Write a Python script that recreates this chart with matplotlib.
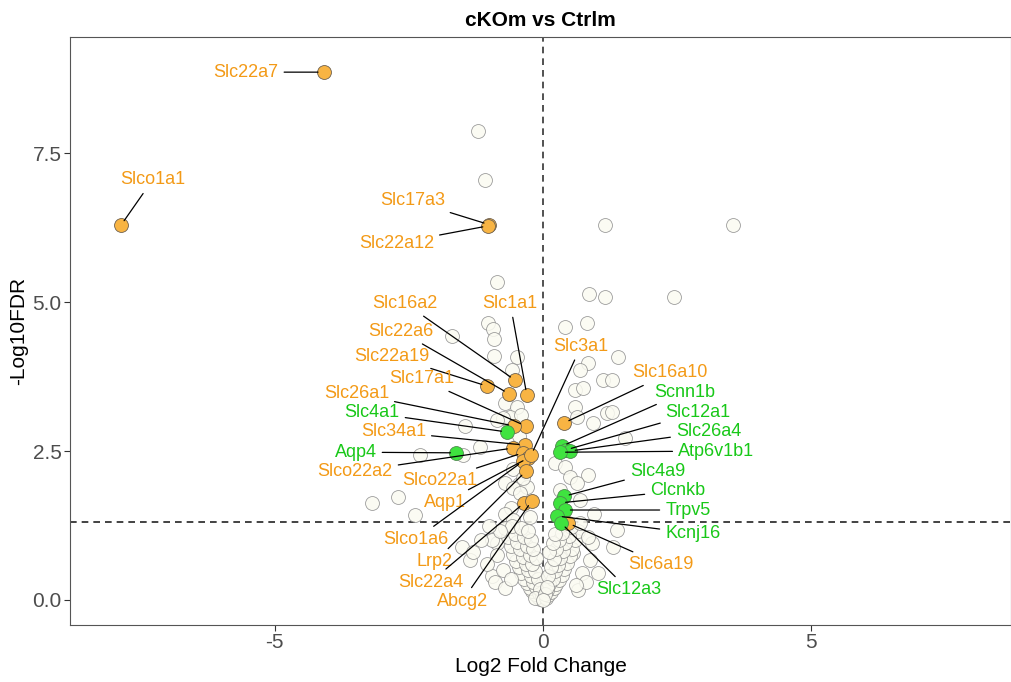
import matplotlib
matplotlib.use("Agg")
import matplotlib.pyplot as plt

plt.rcParams['font.family'] = ['Liberation Sans', 'DejaVu Sans']

# labelled genes
genes = ['Slc22a7', 'Slco1a1', 'Slc17a3', 'Slc22a12', 'Slc16a2', 'Slc1a1',
         'Slc22a6', 'Slc22a19', 'Slc17a1', 'Slc26a1', 'Slc4a1', 'Slc34a1',
         'Aqp4', 'Slco22a2', 'Slco22a1', 'Aqp1', 'Slco1a6', 'Lrp2',
         'Slc22a4', 'Abcg2', 'Slc3a1',
         'Slc16a10', 'Scnn1b', 'Slc12a1', 'Slc26a4', 'Atp6v1b1', 'Slc4a9',
         'Clcnkb', 'Trpv5', 'Kcnj16', 'Slc6a19', 'Slc12a3']
gene_lfc = [-4.09, -7.87, -1.00, -1.02, -0.52, -0.30,
            -0.63, -1.04, -0.32, -0.54, -0.67, -0.34,
            -1.62, -0.56, -0.37, -0.28, -0.37, -0.32,
            -0.35, -0.21, -0.22,
            0.39, 0.35, 0.43, 0.50, 0.32, 0.39,
            0.32, 0.41, 0.26, 0.47, 0.34]
gene_fdr = [8.86, 6.29, 6.30, 6.28, 3.69, 3.44,
            3.46, 3.59, 2.92, 2.92, 2.82, 2.60,
            2.47, 2.55, 2.47, 2.38, 2.33, 2.16,
            1.63, 1.66, 2.43,
            2.97, 2.58, 2.52, 2.50, 2.48, 1.74,
            1.63, 1.51, 1.41, 1.29, 1.29]
gene_group = ['t', 't', 't', 't', 't', 't',
              't', 't', 't', 't', 'c', 't',
              'c', 't', 't', 't', 't', 't',
              't', 't', 't',
              't', 'c', 'c', 'c', 'c', 'c',
              'c', 'c', 'c', 't', 'c']

# all other genes
bg_lfc = [-1.21, -1.08, 1.16, 3.54, -0.86, 0.86, 1.16, 2.44, 0.41, 0.82,
          -1.03, -0.93, -0.91, -0.91, -0.49, -0.58, -1.70,
          1.40, 0.84, 0.69, 1.12, 1.29, 0.60, 0.75, 0.60, 0.63, 1.19, 1.29,
          0.93, 1.53,
          -0.71, -0.49, -0.62, -0.75, -0.86, -1.18, -1.46, -2.29, -1.49,
          -3.19, -2.71, -2.39, -1.51, -1.36,
          0.22, 0.41, 0.84, 0.50, 0.63, 0.32, 0.69, 1.38, 0.91, 1.31, 1.03,
          0.65, 0.88, 0.56, 0.95,
          -0.45, -0.40, -0.55, -0.45, -0.71, -0.56, -0.60, -0.70, -0.30, -0.55,
          -0.42, -0.65, -0.38, -0.25, -0.85, -0.95,
          # cluster near zero, left
          -0.05, -0.10, -0.15, -0.20, -0.25, -0.30, -0.35, -0.40, -0.45, -0.50,
          -0.55, -0.60, -0.65, -0.70, -0.08, -0.12, -0.18, -0.22, -0.28, -0.32,
          -0.38, -0.42, -0.48, -0.52, -0.58, -0.10, -0.15, -0.20, -0.25, -0.30,
          -0.35, -0.40, -0.12, -0.18, -0.22, -0.28, -0.75, -0.85, -0.95, -0.90,
          -1.05, -0.70, -0.60, -0.80, -1.00, -1.15, -1.30, -0.02, -0.06, -0.14,
          # cluster near zero, right
          0.05, 0.10, 0.15, 0.20, 0.25, 0.30, 0.35, 0.40, 0.45, 0.50,
          0.55, 0.60, 0.65, 0.08, 0.12, 0.18, 0.22, 0.28, 0.32, 0.38,
          0.42, 0.48, 0.52, 0.10, 0.15, 0.20, 0.25, 0.30, 0.35, 0.12,
          0.18, 0.22, 0.72, 0.80, 0.62, 0.70, 0.85, 0.03, 0.07, 0.00]
bg_fdr = [7.87, 7.05, 6.29, 6.29, 5.34, 5.13, 5.08, 5.08, 4.58, 4.65,
          4.65, 4.55, 4.38, 4.09, 4.08, 3.86, 4.43,
          4.08, 3.98, 3.86, 3.69, 3.69, 3.52, 3.56, 3.24, 3.07, 3.14, 3.15,
          2.97, 2.72,
          3.31, 3.24, 3.07, 3.05, 3.02, 2.57, 2.92, 2.43, 2.43,
          1.63, 1.73, 1.43, 0.89, 0.67,
          2.30, 2.23, 2.10, 2.06, 1.96, 1.85, 1.68, 1.17, 0.96, 0.89, 0.45,
          0.17, 0.67, 0.79, 1.45,
          2.75, 3.10, 2.20, 1.95, 1.96, 1.88, 1.55, 1.45, 1.90, 1.35,
          1.80, 1.20, 2.05, 1.40, 0.95, 0.40,
          0.02, 0.05, 0.10, 0.15, 0.20, 0.28, 0.35, 0.45, 0.55, 0.65,
          0.78, 0.90, 1.05, 1.20, 0.12, 0.22, 0.30, 0.40, 0.50, 0.60,
          0.72, 0.85, 0.98, 1.10, 1.25, 0.35, 0.48, 0.60, 0.75, 0.90,
          1.05, 1.20, 0.70, 0.85, 1.00, 1.15, 0.50, 0.75, 1.00, 0.30,
          0.60, 0.20, 0.35, 1.15, 1.25, 1.00, 0.80, 0.06, 0.18, 0.04,
          0.04, 0.08, 0.14, 0.20, 0.26, 0.34, 0.42, 0.52, 0.62, 0.74,
          0.86, 1.00, 1.15, 0.16, 0.26, 0.36, 0.48, 0.58, 0.70, 0.82,
          0.95, 1.08, 1.22, 0.40, 0.55, 0.68, 0.85, 1.00, 1.12, 0.80,
          0.95, 1.10, 0.45, 0.30, 0.25, 1.30, 1.05, 0.10, 0.22, 0.00]

fdr_cut = 1.301

# label placement (data coords) and alignment
label_pos = {
    'Slc22a7': (-4.93, 8.86, 'right'), 'Slco1a1': (-7.28, 7.05, 'center'),
    'Slc17a3': (-1.83, 6.70, 'right'), 'Slc22a12': (-2.03, 5.99, 'right'),
    'Slc16a2': (-1.96, 4.98, 'right'), 'Slc1a1': (-0.61, 4.98, 'center'),
    'Slc22a6': (-2.05, 4.51, 'right'), 'Slc22a19': (-2.11, 4.09, 'right'),
    'Slc17a1': (-1.66, 3.71, 'right'), 'Slc26a1': (-2.87, 3.46, 'right'),
    'Slc4a1': (-2.67, 3.14, 'right'), 'Slc34a1': (-2.18, 2.82, 'right'),
    'Aqp4': (-3.10, 2.48, 'right'), 'Slco22a2': (-2.80, 2.16, 'right'),
    'Slco22a1': (-1.23, 2.01, 'right'), 'Aqp1': (-1.44, 1.64, 'right'),
    'Slco1a6': (-1.76, 1.02, 'right'), 'Lrp2': (-1.68, 0.64, 'right'),
    'Slc22a4': (-1.49, 0.30, 'right'), 'Abcg2': (-1.03, -0.02, 'right'),
    'Slc3a1': (0.71, 4.26, 'center'),
    'Slc16a10': (1.66, 3.81, 'left'), 'Scnn1b': (2.07, 3.49, 'left'),
    'Slc12a1': (2.29, 3.15, 'left'), 'Slc26a4': (2.48, 2.82, 'left'),
    'Atp6v1b1': (2.52, 2.50, 'left'), 'Slc4a9': (1.62, 2.16, 'left'),
    'Clcnkb': (2.00, 1.83, 'left'), 'Trpv5': (2.28, 1.51, 'left'),
    'Kcnj16': (2.28, 1.12, 'left'), 'Slc6a19': (1.59, 0.60, 'left'),
    'Slc12a3': (0.99, 0.17, 'left'),
}

fill = {'t': '#F8B443', 'c': '#3FE33F'}
edge = {'t': '#6E6150', 'c': '#4E8A4E'}
txt = {'t': '#F39A17', 'c': '#18C818'}

fig = plt.figure(figsize=(10.11, 6.82), dpi=100)
ax = fig.add_axes([70 / 1011, 1 - 625 / 682, 941 / 1011, 588 / 682])

ax.axvline(0, color='#333333', linestyle=(0, (4, 3)), lw=1.2, zorder=1)
ax.axhline(fdr_cut, color='#222222', linestyle=(0, (4, 3)), lw=1.2, zorder=1)

ax.scatter(bg_lfc, bg_fdr, s=100, facecolor='#FBFBF2', edgecolor='#8C8C8C',
           linewidth=0.6, alpha=0.85, zorder=2)

for g, x, y, grp in zip(genes, gene_lfc, gene_fdr, gene_group):
    ax.scatter([x], [y], s=100, facecolor=fill[grp], edgecolor=edge[grp],
               linewidth=0.6, zorder=4)
    tx, ty, ha = label_pos[g]
    ax.annotate(g, xy=(x, y), xytext=(tx, ty), ha=ha, va='center',
                fontsize=13, color=txt[grp], zorder=5,
                arrowprops=dict(arrowstyle='-', color='black', lw=0.9,
                                shrinkA=2, shrinkB=4))

ax.set_xlim(-8.82, 8.73)
ax.set_ylim(-0.42, 9.45)
ax.set_xticks([-5, 0, 5])
ax.set_xticklabels(['-5', '0', '5'])
ax.set_yticks([0, 2.5, 5, 7.5])
ax.set_yticklabels(['0.0', '2.5', '5.0', '7.5'])
ax.tick_params(labelsize=15, labelcolor='#4D4D4D', color='#333333',
               length=4, pad=2)
for sp in ax.spines.values():
    sp.set_color('#555555')
    sp.set_linewidth(0.8)

ax.set_xlabel('Log2 Fold Change', fontsize=15, labelpad=3)
ax.set_ylabel('-Log10FDR', fontsize=15, labelpad=3)
ax.set_title('cKOm vs Ctrlm', fontsize=15, fontweight='bold', pad=8)

fig.savefig('out.png', dpi=100)
